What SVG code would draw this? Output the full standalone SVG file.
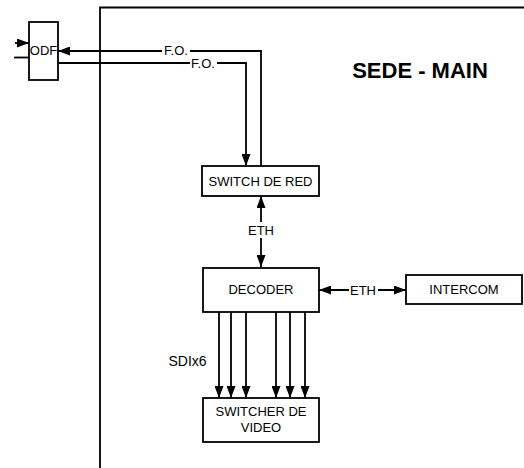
<svg xmlns="http://www.w3.org/2000/svg" width="524" height="468" viewBox="0 0 524 468">
<style>
.box{fill:#fff;stroke:#000;stroke-width:1.8}
.ln{fill:none;stroke:#000;stroke-width:1.8}
.t{font-family:"Liberation Sans",Arial,sans-serif;font-size:13px;fill:#000;text-anchor:middle;dominant-baseline:central}
.lb{fill:#fff}
</style>
<defs>
<marker id="ah" viewBox="0 0 12 9" refX="12" refY="4.5" markerWidth="12" markerHeight="9" markerUnits="userSpaceOnUse" orient="auto-start-reverse">
<path d="M0,0 L12,4.5 L0,9 Z" fill="#000"/>
</marker>
</defs>
<g id="container">
<path class="ln" d="M100,468 V7.5 H524" stroke-width="2"/>
<text x="420" y="70" class="t" style="font-size:22px;font-weight:bold">SEDE - MAIN</text>
</g>
<g id="connectors">
<path class="ln" d="M15,43 H29" marker-end="url(#ah)"/>
<path class="ln" d="M14,57.5 H29"/>
<path class="ln" d="M261,166 V51 H58" marker-end="url(#ah)"/>
<path class="ln" d="M58,63 H246 V166" marker-end="url(#ah)"/>
<rect class="lb" x="162" y="44" width="28" height="13"/>
<text class="t" x="176" y="50.5">F.O.</text>
<rect class="lb" x="190" y="56" width="27" height="13"/>
<text class="t" x="203" y="63">F.O.</text>
<path class="ln" d="M261,196 V267" marker-start="url(#ah)" marker-end="url(#ah)"/>
<rect class="lb" x="248" y="222" width="26" height="16"/>
<text class="t" x="261" y="230">ETH</text>
<path class="ln" d="M319,290 H406" marker-start="url(#ah)" marker-end="url(#ah)"/>
<rect class="lb" x="349" y="282" width="29" height="16"/>
<text class="t" x="363" y="290">ETH</text>
<path class="ln" d="M219,312 V398" marker-end="url(#ah)"/>
<path class="ln" d="M231,312 V398" marker-end="url(#ah)"/>
<path class="ln" d="M246,312 V398" marker-end="url(#ah)"/>
<path class="ln" d="M276,312 V398" marker-end="url(#ah)"/>
<path class="ln" d="M290,312 V398" marker-end="url(#ah)"/>
<path class="ln" d="M305,312 V398" marker-end="url(#ah)"/>
<text class="t" x="187.5" y="361" style="font-size:14px">SDIx6</text>
</g>
<g id="odf">
<rect class="box" x="29" y="22" width="29" height="58"/>
<text class="t" x="43.5" y="50">ODF</text>
</g>
<g id="switch-red">
<rect class="box" x="202" y="166" width="117" height="30"/>
<text class="t" x="260.5" y="181">SWITCH DE RED</text>
</g>
<g id="decoder">
<rect class="box" x="203" y="268" width="116" height="44"/>
<text class="t" x="261" y="289">DECODER</text>
</g>
<g id="intercom">
<rect class="box" x="406" y="275" width="116" height="29"/>
<text class="t" x="464" y="289">INTERCOM</text>
</g>
<g id="switcher-video">
<rect class="box" x="203" y="398" width="116" height="44"/>
<text class="t" x="261" y="411">SWITCHER DE</text>
<text class="t" x="261" y="427">VIDEO</text>
</g>
</svg>
